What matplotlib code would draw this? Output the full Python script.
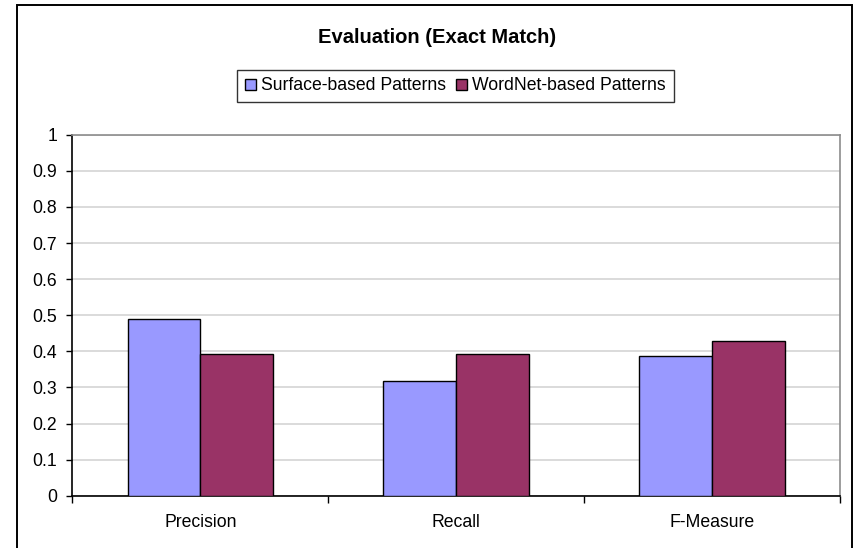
import numpy as np
import matplotlib.pyplot as plt
from matplotlib.patches import Rectangle

plt.rcParams['font.family'] = ['Liberation Sans', 'DejaVu Sans']

# data
categories = ['Precision', 'Recall', 'F-Measure']
surface = [0.489, 0.317, 0.386]
wordnet = [0.393, 0.393, 0.428]
series_names = ['Surface-based Patterns', 'WordNet-based Patterns']
y_ticks = [0, 0.1, 0.2, 0.3, 0.4, 0.5, 0.6, 0.7, 0.8, 0.9, 1]
y_labels = ['0', '0.1', '0.2', '0.3', '0.4', '0.5', '0.6', '0.7', '0.8', '0.9', '1']

W, H = 854, 548
FS = 12.7
fig = plt.figure(figsize=(W / 100, H / 100), dpi=100)

# outer chart frame (bottom edge runs off the image)
fig.patches.append(Rectangle((17 / W, -0.05), (852 - 17) / W, 1.05 - 5 / H,
                             transform=fig.transFigure, fill=False,
                             edgecolor='black', linewidth=1.4))

ax = fig.add_axes([72.5 / W, 1 - 495.7 / H, (840 - 72.5) / W, (495.7 - 134.7) / H])

x = np.arange(len(categories))
bw = 0.285
ax.bar(x - bw / 2, surface, bw, color='#9999FF', edgecolor='black', linewidth=1,
       label=series_names[0], zorder=3)
ax.bar(x + bw / 2, wordnet, bw, color='#993366', edgecolor='black', linewidth=1,
       label=series_names[1], zorder=3)

ax.set_xlim(-0.5, len(categories) - 0.5)
ax.set_ylim(0, 1)
ax.set_yticks(y_ticks)
ax.set_yticklabels(y_labels, fontsize=FS)
ax.set_xticks(x)
ax.set_xticklabels(categories, fontsize=FS)
ax.set_xticks(np.arange(len(categories) + 1) - 0.5, minor=True)
ax.tick_params(axis='x', which='major', length=0, pad=13)
ax.tick_params(axis='x', which='minor', length=5, width=1, direction='out')
ax.tick_params(axis='y', length=4, width=1, direction='out', pad=7)

ax.yaxis.grid(True, color='#d4d4d4', linewidth=1.2, zorder=0)
ax.set_axisbelow(True)
for s in ['top', 'right']:
    ax.spines[s].set_color('#8c8c8c')
    ax.spines[s].set_linewidth(1.2)
for s in ['left', 'bottom']:
    ax.spines[s].set_color('black')
    ax.spines[s].set_linewidth(1.2)

fig.text(437 / W, 1 - 43 / H, 'Evaluation (Exact Match)', ha='center', va='baseline',
         fontsize=14.5, fontweight='bold')

leg = ax.legend(loc='center', bbox_to_anchor=(455.5 / W, 1 - 86 / H),
                bbox_transform=fig.transFigure, ncol=2, fontsize=FS, frameon=True,
                fancybox=False, edgecolor='black', handlelength=0.6, handleheight=0.6,
                handletextpad=0.3, columnspacing=0.6, borderpad=0.45, borderaxespad=0)
leg.get_frame().set_linewidth(1)

fig.savefig('out.png', dpi=100)
